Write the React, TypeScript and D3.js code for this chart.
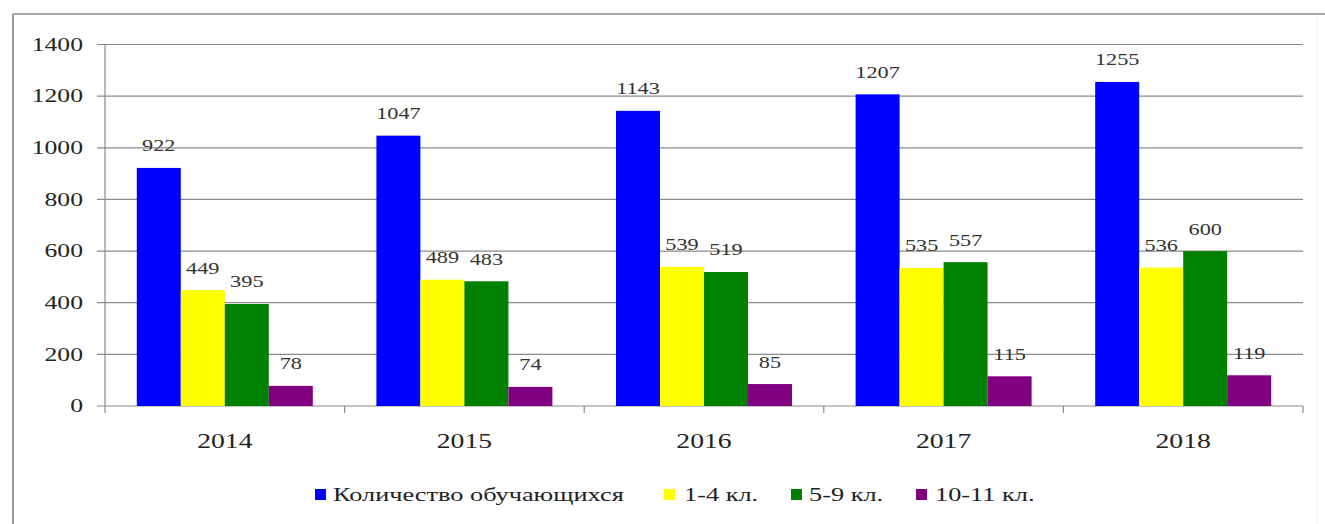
import React from "react";
import * as d3 from "d3";

const categories = ["2014", "2015", "2016", "2017", "2018"];
const seriesNames = ["Количество обучающихся", "1-4 кл.", "5-9 кл.", "10-11 кл."];
const seriesColors = ["#0000FF", "#FFFF00", "#008000", "#800080"];
const totalStudents = [922, 1047, 1143, 1207, 1255];
const grades1to4 = [449, 489, 539, 535, 536];
const grades5to9 = [395, 483, 519, 557, 600];
const grades10to11 = [78, 74, 85, 115, 119];
const yTicks = [0, 200, 400, 600, 800, 1000, 1200, 1400];

const seriesValues = [totalStudents, grades1to4, grades5to9, grades10to11];

const W = 1325;
const H = 524;
const SX = 1.35;
const FONT = "Liberation Serif, Times New Roman, serif";

const x = d3.scaleBand<string>().domain(categories).range([105, 1303]).padding(0);
const xs = d3
  .scaleBand<number>()
  .domain([0, 1, 2, 3])
  .range([0, x.bandwidth()])
  .paddingInner(0)
  .paddingOuter(0.7225);
const y = d3.scaleLinear().domain([0, 1400]).range([406, 44.5]);

const legendItems = [
  { sq: 315, tx: 333 },
  { sq: 664, tx: 684 },
  { sq: 791, tx: 809 },
  { sq: 916, tx: 935 },
];

function T({ x0, y0, size, anchor, children, fill = "#222" }: any) {
  return (
    <text
      transform={`translate(${x0},${y0}) scale(${SX},1)`}
      textAnchor={anchor}
      dominantBaseline="central"
      fill={fill}
      style={{ fontFamily: FONT, fontSize: `${size}px` }}
    >
      {children}
    </text>
  );
}

export default function App() {
  const boundaries = categories.map((c) => (x(c) as number) + x.bandwidth());
  return (
    <svg
      width={W}
      height={H}
      style={{ position: "absolute", left: 0, top: 0, background: "#fff" }}
    >
      {/* outer frame */}
      <line x1={13} y1={14} x2={1325} y2={14} stroke="#a8a8a8" strokeWidth={2} />
      <line x1={13} y1={14} x2={13} y2={524} stroke="#9a9a9a" strokeWidth={2} />
      <line x1={1317} y1={16} x2={1317} y2={524} stroke="#eeeeee" strokeWidth={1} />

      {/* gridlines + y ticks */}
      {yTicks.map((t) => (
        <g key={t}>
          <line x1={97} x2={1303} y1={y(t)} y2={y(t)} stroke="#8a8a8a" strokeWidth={1.2} />
          <T x0={83} y0={y(t)} size={19} anchor="end">
            {t}
          </T>
        </g>
      ))}
      {/* y axis */}
      <line x1={105} x2={105} y1={y(1400)} y2={413} stroke="#8a8a8a" strokeWidth={1.2} />
      {/* x ticks */}
      {boundaries.map((b, i) => (
        <line key={i} x1={b} x2={b} y1={406} y2={413} stroke="#8a8a8a" strokeWidth={1.2} />
      ))}

      {/* bars */}
      {categories.map((c, ci) =>
        seriesValues.map((vals, si) => {
          const bx = (x(c) as number) + (xs(si) as number);
          const v = vals[ci];
          return (
            <g key={`${c}-${si}`}>
              <rect
                x={bx}
                y={y(v)}
                width={xs.bandwidth()}
                height={y(0) - y(v)}
                fill={seriesColors[si]}
              />
              <T x0={bx + xs.bandwidth() / 2} y0={y(v) - 22} size={16.5} anchor="middle" fill="#333">
                {v}
              </T>
            </g>
          );
        })
      )}

      {/* x labels */}
      {categories.map((c) => (
        <T key={c} x0={(x(c) as number) + x.bandwidth() / 2} y0={441} size={20.5} anchor="middle">
          {c}
        </T>
      ))}

      {/* legend */}
      {seriesNames.map((n, i) => (
        <g key={n}>
          <rect x={legendItems[i].sq} y={489} width={11} height={11} fill={seriesColors[i]} />
          <T x0={legendItems[i].tx} y0={494} size={19.5} anchor="start">
            {n}
          </T>
        </g>
      ))}
    </svg>
  );
}
